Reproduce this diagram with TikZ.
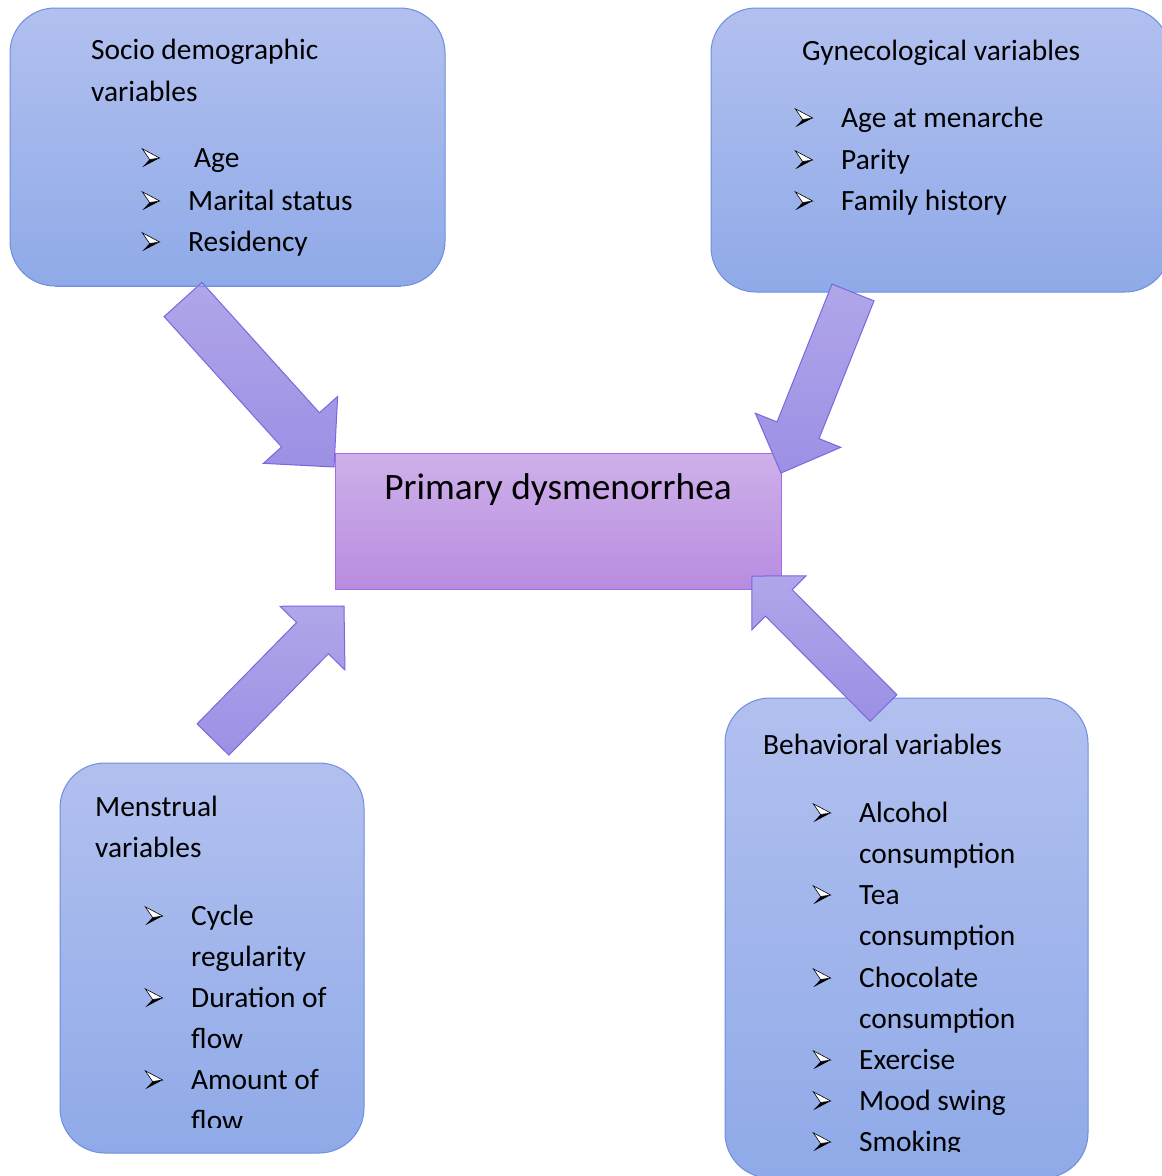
\documentclass[tikz,border=0pt]{standalone}
\usepackage{fontspec}
\setmainfont{Carlito}
\usetikzlibrary{calc}

\definecolor{boxtop}{RGB}{178,192,239}
\definecolor{boxbot}{RGB}{143,170,232}
\definecolor{boxline}{RGB}{110,142,222}
\definecolor{pdtop}{RGB}{206,176,233}
\definecolor{pdbot}{RGB}{184,140,225}
\definecolor{pdline}{RGB}{165,110,222}
\definecolor{arrtop}{RGB}{176,166,233}
\definecolor{arrbot}{RGB}{155,144,228}
\definecolor{arrline}{RGB}{120,104,224}

\tikzset{
  varbox/.style={draw=boxline, line width=1pt, rounded corners=45pt, top color=boxtop, bottom color=boxbot, inner sep=0pt},
  pdbox/.style={draw=pdline, line width=1pt, top color=pdtop, bottom color=pdbot, inner sep=0pt},
  blockarrow/.style={draw=arrline, line width=1pt, top color=arrtop, bottom color=arrbot, line join=miter},
  txt/.style={anchor=base west, inner sep=0pt, font=\fontsize{29.4}{35}\selectfont},
  arrowbullet/.pic={
    \fill[black] (-1.4,1.5) -- (8.7,0) -- (-8.7,9.2) -- cycle;
    \filldraw[fill=white, draw=black, line width=0.6pt] (-8.7,-9.2) -- (8.7,0) -- (-1.4,1.5) -- cycle;
  }
}

% block arrow: tail, tip, shaft half width, head half width, head length
\newcommand{\blockarr}[5]{%
  \coordinate (hb) at ($(#2)!#5!(#1)$);
  \draw[blockarrow] ($(#1)!#3!90:(#2)$) -- ($(hb)!#3!-90:(#1)$) -- ($(hb)!#4!-90:(#1)$)
    -- (#2) -- ($(hb)!#4!90:(#1)$) -- ($(hb)!#3!90:(#1)$) -- ($(#1)!#3!-90:(#2)$) -- cycle;
}

\begin{document}
\begin{tikzpicture}[x=1pt, y=-1pt]
  \useasboundingbox (0,0) rectangle (1162,1176);

  % boxes
  \node[varbox, minimum width=435pt, minimum height=278pt] (socio) at (227.5,147) {};
  \node[varbox, minimum width=459pt, minimum height=284pt] (gyn) at (940.5,150) {};
  \node[varbox, minimum width=304pt, minimum height=390pt] (mens) at (212,958) {};
  \node[varbox, minimum width=363pt, minimum height=480pt] (behav) at (906.5,938) {};
  \node[pdbox, minimum width=446pt, minimum height=136pt] (pd) at (558,521) {};
  \node[anchor=base, inner sep=0pt, font=\fontsize{37.3}{44}\selectfont] (pdlabel) at (558,499) {Primary dysmenorrhea};

  % socio demographic
  \node[txt] (soctitle) at (91,59) {Socio demographic};
  \node[txt] (socvar) at (91,101) {variables};
  \node[txt] (soc1) at (194,167) {Age};
  \node[txt] (soc2) at (188,210) {Marital status};
  \node[txt] (soc3) at (188,251) {Residency};
  \foreach \y in {158,201,242} \pic at (151,\y) {arrowbullet};

  % gynecological
  \node[txt] (gyntitle) at (802,60) {Gynecological variables};
  \node[txt] (gyn1) at (841,127) {Age at menarche};
  \node[txt] (gyn2) at (841,169) {Parity};
  \node[txt] (gyn3) at (841,210) {Family history};
  \foreach \y in {118,160,201} \pic at (804,\y) {arrowbullet};

  % menstrual
  \begin{scope}
    \clip (60,763) rectangle (364,1127);
    \node[txt] (menstitle) at (95,816) {Menstrual};
    \node[txt] (mensvar) at (95,857) {variables};
    \node[txt] (mens1) at (191,925) {Cycle};
    \node[txt] (mens1b) at (191,966) {regularity};
    \node[txt] (mens2) at (191,1007) {Duration of};
    \node[txt] (mens2b) at (191,1048) {flow};
    \node[txt] (mens3) at (191,1089) {Amount of};
    \node[txt] (mens3b) at (191,1130) {flow};
  \end{scope}
  \foreach \y in {916,998,1080} \pic at (154,\y) {arrowbullet};

  % behavioral
  \begin{scope}
    \clip (725,698) rectangle (1088,1151);
    \node[txt] (behtitle) at (763,754) {Behavioral variables};
    \node[txt] (beh1) at (859,822) {Alcohol};
    \node[txt] (beh1b) at (859,863) {consumption};
    \node[txt] (beh2) at (859,904) {Tea};
    \node[txt] (beh2b) at (859,945) {consumption};
    \node[txt] (beh3) at (859,987) {Chocolate};
    \node[txt] (beh3b) at (859,1028) {consumption};
    \node[txt] (beh4) at (859,1069) {Exercise};
    \node[txt] (beh5) at (859,1110) {Mood swing};
    \node[txt] (beh6) at (859,1151) {Smoking};
  \end{scope}
  \foreach \y in {813,895,978,1060,1101,1142} \pic at (822,\y) {arrowbullet};

  % block arrows
  \coordinate (socout) at (183,299.5);
  \coordinate (pdnw) at (334,467);
  \coordinate (gynout) at (853,292.5);
  \coordinate (pdne) at (781,473);
  \coordinate (mensout) at (213,739.5);
  \coordinate (pdsw) at (344,606);
  \coordinate (behout) at (883.5,708);
  \coordinate (pdse) at (752,576);
  \blockarr{socout}{pdnw}{25.5pt}{50pt}{50pt}
  \blockarr{gynout}{pdne}{22.6pt}{46pt}{46pt}
  \blockarr{mensout}{pdsw}{22.3pt}{45.5pt}{45pt}
  \blockarr{behout}{pdse}{18.8pt}{38.2pt}{38pt}
  % box edge over the tail of the first arrow
  \draw[boxline, line width=1pt] ($(socio.south west)+(45,0)$) -- ($(socio.south east)+(-45,0)$);
\end{tikzpicture}
\end{document}
